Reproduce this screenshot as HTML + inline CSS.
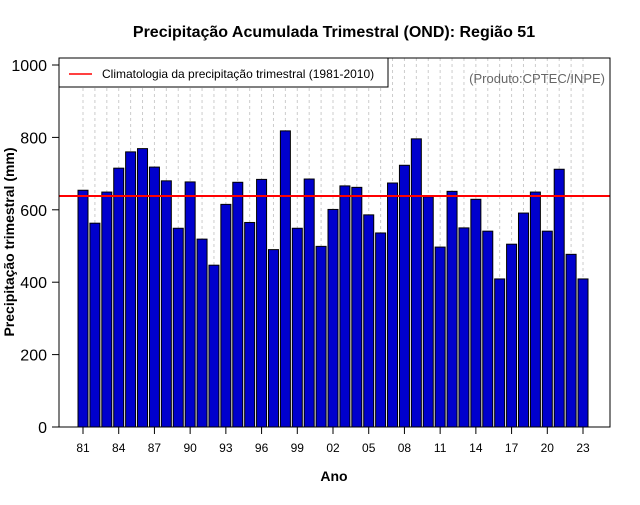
<!DOCTYPE html>
<html><head><meta charset="utf-8"><style>
body{margin:0;background:#fff;font-family:"Liberation Sans",sans-serif}
</style></head><body>
<svg id="chart" width="640" height="500" xmlns="http://www.w3.org/2000/svg" font-family="Liberation Sans, sans-serif">
<text x="334" y="37" text-anchor="middle" font-size="16" font-weight="bold">Precipitação Acumulada Trimestral (OND): Região 51</text>
<g id="grid"></g>
<g id="bars"></g>
<line id="clim" x1="59" x2="610" stroke="#ff0000" stroke-width="2"/>
<rect x="59" y="58" width="551" height="369" fill="none" stroke="#000"/>
<g id="yaxis"></g><g id="xaxis"></g>
<text transform="translate(14,242) rotate(-90)" text-anchor="middle" font-size="14" font-weight="bold">Precipitação trimestral (mm)</text>
<text x="334" y="481" text-anchor="middle" font-size="14" font-weight="bold">Ano</text>
<g>
<rect x="59" y="58" width="329" height="29" fill="#fff" stroke="#000"/>
<line x1="69" x2="92" y1="74" y2="74" stroke="#ff0000" stroke-width="1.5"/>
<text x="102" y="78" font-size="12">Climatologia da precipitação trimestral (1981-2010)</text>
</g>
<text x="605" y="83" text-anchor="end" font-size="13" fill="#666">(Produto:CPTEC/INPE)</text>
</svg>
<script>
const years=[1981,1982,1983,1984,1985,1986,1987,1988,1989,1990,1991,1992,1993,1994,1995,1996,1997,1998,1999,2000,2001,2002,2003,2004,2005,2006,2007,2008,2009,2010,2011,2012,2013,2014,2015,2016,2017,2018,2019,2020,2021,2022,2023];
const values=[654,563,649,715,760,769,718,680,549,677,519,447,615,676,565,684,490,818,549,685,499,601,666,662,586,536,674,723,796,636,497,651,550,629,541,409,505,591,649,541,712,477,409];
const climatology=638;
const yTicks=[0,200,400,600,800,1000];
const NS='http://www.w3.org/2000/svg';
const x=yr=>83+(yr-1981)*11.905;
const y=v=>427-v*0.362;
function mk(tag,attrs,parent){const e=document.createElementNS(NS,tag);for(const k in attrs)e.setAttribute(k,attrs[k]);document.getElementById(parent).appendChild(e);return e;}
years.forEach((yr,i)=>{
 const g=mk('line',{x1:x(yr),x2:x(yr),y1:58,y2:427,stroke:'#ccc','stroke-dasharray':'3,3'},'grid');
 
 
 const b=mk('rect',{x:x(yr)-5,y:y(values[i]),width:10,height:427-y(values[i]),fill:'#0000cd',stroke:'#000','stroke-width':1},'bars');
 
 
 if((yr-1981)%3===0){
  const t=mk('line',{x1:x(yr),x2:x(yr),y1:427,y2:434,stroke:'#000'},'xaxis');
  
  
  const l=mk('text',{x:x(yr),y:452,'text-anchor':'middle','font-size':12},'xaxis');
  
  
  l.textContent=String(yr%100).padStart(2,'0');
 }
});
const c=document.getElementById('clim');c.setAttribute('y1',y(climatology));c.setAttribute('y2',y(climatology));
yTicks.forEach(v=>{
 const t=mk('line',{x1:52,x2:59,y1:y(v),y2:y(v),stroke:'#000'},'yaxis');
 
 
 const l=mk('text',{x:47,y:y(v)+6,'text-anchor':'end','font-size':16},'yaxis');
 
 
 l.textContent=v;
});
</script>
</body></html>
